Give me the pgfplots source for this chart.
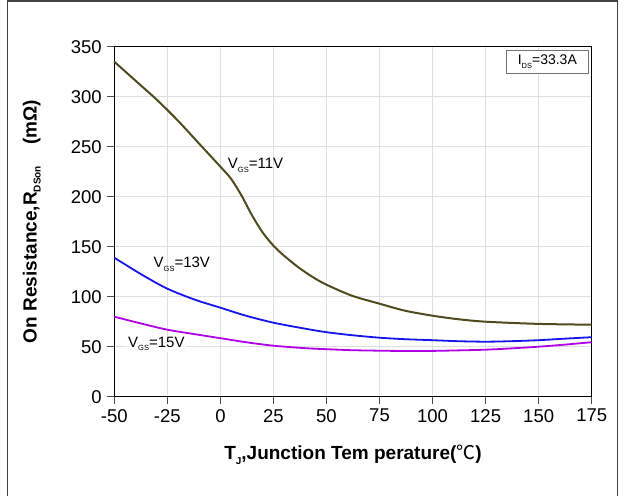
\documentclass[border=0pt]{standalone}
\usepackage{fontspec}
\setmainfont{Liberation Sans}
\newfontfamily\cjk{Noto Sans CJK SC}
\usepackage{pgfplots}
\pgfplotsset{compat=1.18}

\definecolor{olivecurve}{RGB}{80,75,30}
\definecolor{bluecurve}{RGB}{20,20,235}
\definecolor{magcurve}{RGB}{175,0,230}

\newcommand{\sub}[1]{\raisebox{-0.45ex}{\fontsize{7.5bp}{8bp}\selectfont #1}}
\newcommand{\lsub}[1]{\raisebox{-0.4ex}{\fontsize{10bp}{10bp}\selectfont #1}}

\begin{document}
\begin{tikzpicture}[x=1bp,y=1bp]
\useasboundingbox (0,0) rectangle (626,496);
\draw[line width=1.5bp, black!75] (7.3,0) -- (7.3,494.8) -- (617.3,494.8) -- (617.3,0);

\begin{axis}[
    at={(114.3bp,99.3bp)}, anchor=south west,
    scale only axis,
    width=477.4bp, height=350bp,
    xmin=-50, xmax=175,
    ymin=0, ymax=350,
    xtick={-50,-25,...,175},
    ytick={0,50,...,350},
    xtick pos=bottom, ytick pos=left,
    grid=major,
    grid style={gray!25, line width=0.8bp},
    axis line style={line width=1bp},
    tick style={black!70, line width=0.8bp},
    tick align=outside,
    major tick length=7bp,
    /pgf/number format/assume math mode=true,
    ticklabel style={font=\fontsize{18.5bp}{21bp}\selectfont},
    xticklabel style={yshift=-2bp},
    yticklabel style={xshift=-2bp},
    label style={font=\bfseries\fontsize{19bp}{22bp}\selectfont},
    xlabel={T\lsub{J},Junction Tem perature({\cjk\mdseries ℃})},
    ylabel={On Resistance,R\lsub{DSon}\ \ \ \ (mΩ)},
    xlabel style={at={(axis description cs:0.5,-0.166)}, anchor=center},
    ylabel style={at={(axis description cs:-0.173,0.5)}, anchor=center, rotate=0},
    clip=false,
]

\addplot[olivecurve, line width=2bp, smooth] coordinates {
  (-50,335) (-40,316) (-30,297) (-20,276) (-10,253) (0,230)
  (5,218) (10,201) (15,181) (20,164) (25,151) (30,141)
  (37,129) (44,119) (50,112) (62,101) (75,93) (87,86) (100,81)
  (112,77.5) (125,75) (150,72.8) (175,72)
};

\addplot[bluecurve, line width=1.8bp, smooth] coordinates {
  (-50,139) (-37,122) (-25,108) (-12,97) (0,89) (12,81) (25,74)
  (40,68) (50,64.5) (62,61.5) (75,59) (87,57.5) (100,56.5)
  (112,55.5) (125,55) (137,55.5) (150,56.5) (162,58) (175,59.5)
};

\addplot[magcurve, line width=1.8bp, smooth] coordinates {
  (-50,80) (-37,73) (-25,67) (-12,62.5) (0,58.5) (12,54.5) (25,51)
  (40,48.5) (50,47.5) (62,46.5) (75,46) (87,45.7) (100,45.8)
  (112,46.3) (125,47) (137,48.3) (150,50) (162,52) (175,54.5)
};

\node[anchor=base west, font=\fontsize{15bp}{18bp}\selectfont, inner sep=1bp]
  at (axis cs:3,228) {V\sub{GS}=11V};
\node[anchor=base west, font=\fontsize{15bp}{18bp}\selectfont, inner sep=1bp]
  at (axis cs:-32,129) {V\sub{GS}=13V};
\node[anchor=base west, font=\fontsize{15bp}{18bp}\selectfont, inner sep=1bp, fill=white]
  at (axis cs:-44,49.5) {V\sub{GS}=15V};

\node[draw=black!55, line width=0.8bp, fill=white, anchor=north east,
      minimum width=82bp, minimum height=23bp, inner sep=2bp,
      font=\fontsize{14bp}{16bp}\selectfont]
  at ([xshift=-3bp,yshift=-3bp]rel axis cs:1,1) {I\sub{DS}=33.3A};
\end{axis}
\end{tikzpicture}
\end{document}
